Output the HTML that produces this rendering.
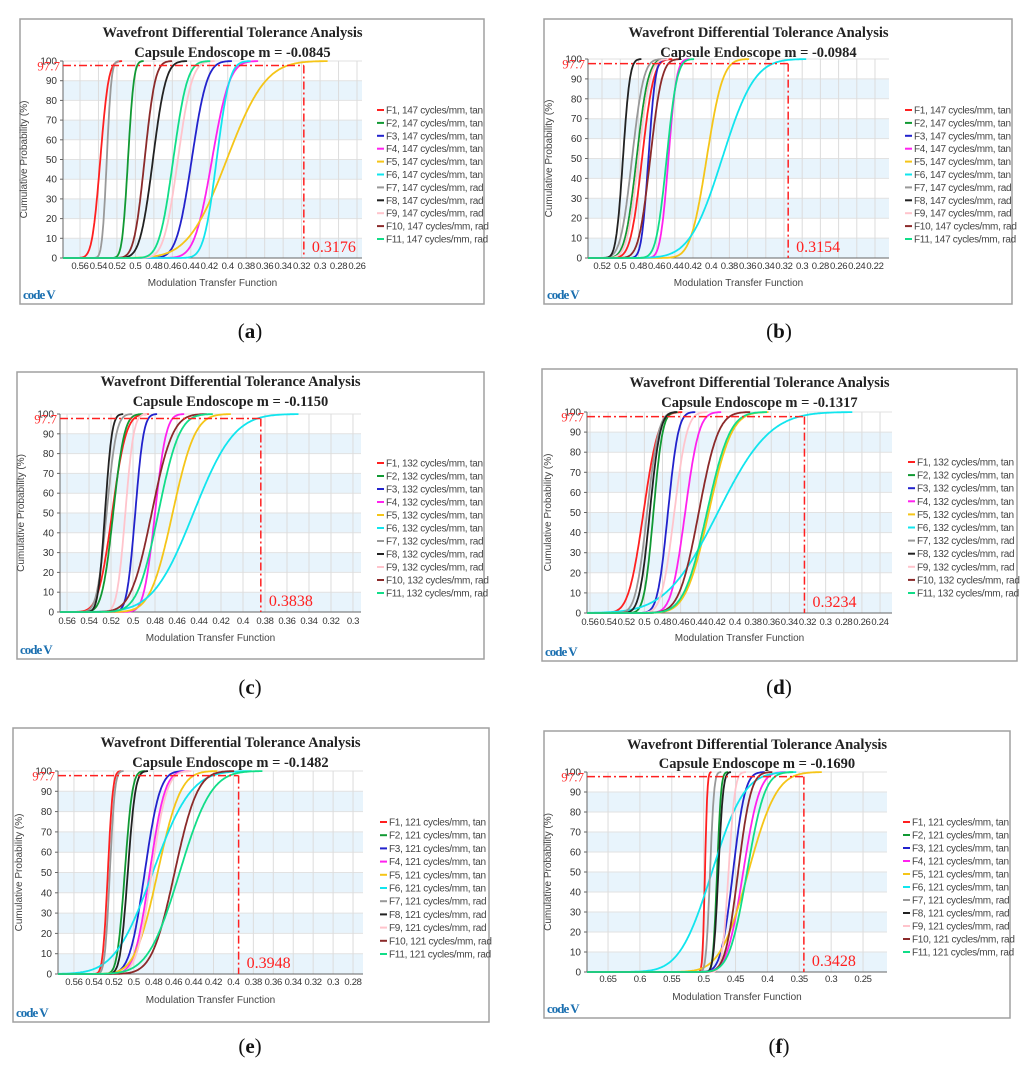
<!DOCTYPE html>
<html><head><meta charset="utf-8"><style>
html,body{margin:0;padding:0;background:#fff;}
svg{display:block;}
</style></head><body>
<svg id="fig" width="1036" height="1083" viewBox="0 0 1036 1083" xmlns="http://www.w3.org/2000/svg"></svg>
<script>
const seriesColors = ['#ff2020','#119933','#2222cc','#ff22ee','#f5c518','#11e5ee','#999999','#222222','#ffc4cc','#8b2a2a','#11dd88'];
const seriesNames = ['F1','F2','F3','F4','F5','F6','F7','F8','F9','F10','F11'];
const seriesKinds = ['tan','tan','tan','tan','tan','tan','rad','rad','rad','rad','rad'];
const panelLetters = ['a','b','c','d','e','f'];
const panelM = ['-0.0845','-0.0984','-0.1150','-0.1317','-0.1482','-0.1690'];
const panelFreq = [147,147,132,132,121,121];
const panelCutoff = [0.3176,0.3154,0.3838,0.3234,0.3948,0.3428];
const ticksA = [0.56,0.54,0.52,0.5,0.48,0.46,0.44,0.42,0.4,0.38,0.36,0.34,0.32,0.3,0.28,0.26];
const ticksB = [0.52,0.5,0.48,0.46,0.44,0.42,0.4,0.38,0.36,0.34,0.32,0.3,0.28,0.26,0.24,0.22];
const ticksC = [0.56,0.54,0.52,0.5,0.48,0.46,0.44,0.42,0.4,0.38,0.36,0.34,0.32,0.3];
const ticksD = [0.56,0.54,0.52,0.5,0.48,0.46,0.44,0.42,0.4,0.38,0.36,0.34,0.32,0.3,0.28,0.26,0.24];
const ticksE = [0.56,0.54,0.52,0.5,0.48,0.46,0.44,0.42,0.4,0.38,0.36,0.34,0.32,0.3,0.28];
const ticksF = [0.65,0.6,0.55,0.5,0.45,0.4,0.35,0.3,0.25];
const yTicks = [0,10,20,30,40,50,60,70,80,90,100];
// per-curve median MTF and spread (F1..F11)
const meansA = [0.538,0.508,0.439,0.417,0.401,0.412,0.531,0.481,0.454,0.490,0.459];
const sdsA   = [0.007,0.005,0.013,0.015,0.033,0.011,0.004,0.011,0.012,0.009,0.012];
const meansB = [0.476,0.482,0.469,0.447,0.405,0.388,0.487,0.497,0.480,0.467,0.449];
const sdsB   = [0.010,0.010,0.006,0.007,0.014,0.028,0.010,0.006,0.010,0.010,0.009];
const meansC = [0.519,0.518,0.498,0.480,0.464,0.445,0.524,0.5255,0.507,0.483,0.477];
const sdsC   = [0.010,0.008,0.006,0.008,0.016,0.029,0.007,0.005,0.006,0.015,0.015];
const meansD = [0.501,0.490,0.474,0.455,0.429,0.419,0.497,0.494,0.467,0.440,0.431];
const sdsD   = [0.013,0.008,0.009,0.012,0.020,0.045,0.010,0.009,0.011,0.017,0.020];
const meansE = [0.526,0.509,0.489,0.484,0.476,0.481,0.524,0.506,0.482,0.459,0.454];
const sdsE   = [0.004,0.006,0.012,0.012,0.018,0.030,0.004,0.006,0.012,0.018,0.025];
const meansF = [0.498,0.479,0.454,0.438,0.430,0.487,0.490,0.477,0.461,0.446,0.432];
const sdsF   = [0.003,0.005,0.015,0.020,0.035,0.040,0.005,0.006,0.008,0.016,0.022];

const panelMeans = [meansA,meansB,meansC,meansD,meansE,meansF];
const panelSds = [sdsA,sdsB,sdsC,sdsD,sdsE,sdsF];
const panelTicks = [ticksA,ticksB,ticksC,ticksD,ticksE,ticksF];
const layouts = [
 {bx:20,by:19,bw:464,bh:285,pl:63,pr:362,pt:61,pb:258,vl:0.5784,vr:0.2546,t1:37,t2:57,lx:377,ly0:110,ly1:239,tx:269,xt:286,lab:[250,338]},
 {bx:544,by:19,bw:468,bh:285,pl:588,pr:889,pt:59,pb:258,vl:0.5354,vr:0.2046,t1:37,t2:57,lx:905,ly0:110,ly1:239,tx:269,xt:286,lab:[779,338]},
 {bx:17,by:372,bw:467,bh:287,pl:60,pr:361,pt:414,pb:612,vl:0.5664,vr:0.2927,t1:386,t2:406,lx:377,ly0:463,ly1:593,tx:624,xt:641,lab:[250,694]},
 {bx:542,by:369,bw:475,bh:292,pl:587,pr:892,pt:412,pb:613,vl:0.5633,vr:0.2268,t1:387,t2:407,lx:908,ly0:462,ly1:593,tx:625,xt:641,lab:[779,694]},
 {bx:13,by:728,bw:476,bh:294,pl:58,pr:363,pt:771,pb:974,vl:0.576,vr:0.27,t1:747,t2:767,lx:380,ly0:822,ly1:954,tx:985,xt:1003,lab:[250,1053]},
 {bx:544,by:731,bw:466,bh:287,pl:587,pr:887,pt:772,pb:972,vl:0.683,vr:0.2124,t1:749,t2:768,lx:903,ly0:822,ly1:952,tx:982,xt:1000,lab:[779,1053]}
];
const NS='http://www.w3.org/2000/svg';
const svg=document.getElementById('fig');
function mk(tag,attrs,parent,text){const e=document.createElementNS(NS,tag);for(const k in attrs)e.setAttribute(k,attrs[k]);if(text!==undefined)e.textContent=text;(parent||svg).appendChild(e);return e;}
function erf(x){const s=x<0?-1:1;x=Math.abs(x);const t=1/(1+0.3275911*x);const y=1-(((((1.061405429*t-1.453152027)*t)+1.421413741)*t-0.284496736)*t+0.254829592)*t*Math.exp(-x*x);return s*y;}
function cdf(z){return 0.5*(1+erf(z/Math.SQRT2));}
function fmt(v){return String(+v.toFixed(2));}

layouts.forEach((L,pi)=>{
  const g=mk('g',{});
  
  
  const xs=v=>L.pl+(L.vl-v)/(L.vl-L.vr)*(L.pr-L.pl);
  const ys=p=>L.pb-p/100*(L.pb-L.pt);
  const box=mk('rect',{x:L.bx,y:L.by,width:L.bw,height:L.bh,fill:'#fff',stroke:'#a0a0a0','stroke-width':1.5},g);
  
  for(let k=0;k<10;k+=2){
    const r=mk('rect',{x:L.pl,y:ys(k*10+10),width:L.pr-L.pl,height:ys(k*10)-ys(k*10+10),fill:'#e8f4fc'},g);
    
  }
  yTicks.forEach(t=>{
    const l=mk('line',{x1:L.pl,x2:L.pr,y1:ys(t),y2:ys(t),stroke:'#e2e2e2','stroke-width':1},g);
    
    const tl=mk('text',{x:L.pl-6,y:ys(t)+3.5,'text-anchor':'end','font-family':'Liberation Sans, sans-serif','font-size':10,fill:'#333'},g,String(t));
    
    mk('line',{x1:L.pl-3,x2:L.pl,y1:ys(t),y2:ys(t),stroke:'#666'},g);
  });
  panelTicks[pi].forEach(t=>{
    const x=xs(t);
    const l=mk('line',{x1:x,x2:x,y1:L.pt,y2:L.pb,stroke:'#dcdcdc','stroke-width':1},g);
    
    const tl=mk('text',{x:x,y:L.tx,'text-anchor':'middle','font-family':'Liberation Sans, sans-serif','font-size':9.5,fill:'#333','letter-spacing':'-0.3'},g,fmt(t));
    
  });
  mk('line',{x1:L.pl,x2:L.pl,y1:L.pt,y2:L.pb,stroke:'#666'},g);
  mk('line',{x1:L.pl,x2:L.pr,y1:L.pb,y2:L.pb,stroke:'#666'},g);
  const means=panelMeans[pi],sds=panelSds[pi];
  means.forEach((mu,ci)=>{
    const s=sds[ci];let pts=[];
    const n=400;
    for(let i=0;i<=n;i++){
      const v=L.vl+(L.vr-L.vl)*i/n;
      const p=100*cdf((mu-v)/s);
      pts.push(xs(v).toFixed(1)+','+ys(p).toFixed(1));
      if(p>99.95)break;
    }
    const pl=mk('polyline',{points:pts.join(' '),fill:'none',stroke:seriesColors[ci],'stroke-width':1.8},g);
    
    
  });
  const cx=xs(panelCutoff[pi]);
  const h=mk('line',{x1:L.pl,x2:cx,y1:ys(97.7),y2:ys(97.7),stroke:'#ff2020','stroke-width':1.5,'stroke-dasharray':'8,3,2,3'},g);
  
  const v=mk('line',{x1:cx,x2:cx,y1:ys(97.7),y2:L.pb,stroke:'#ff2020','stroke-width':1.5,'stroke-dasharray':'8,3,2,3'},g);
  
  const t97=mk('text',{x:L.pl-3,y:ys(97.7)+5,'text-anchor':'end','font-family':'Liberation Serif, serif','font-size':13,fill:'#ff3030'},g,'97.7');
  
  const tv=mk('text',{x:cx+8,y:L.pb-6,'font-family':'Liberation Serif, serif','font-size':16,fill:'#ff2020'},g,panelCutoff[pi].toFixed(4));
  
  const cxm=(L.pl+L.pr)/2+20;
  const t1=mk('text',{x:cxm,y:L.t1,'text-anchor':'middle','font-family':'Liberation Serif, serif','font-size':14.5,'font-weight':'bold',fill:'#222'},g,'Wavefront  Differential  Tolerance  Analysis');
  
  const t2=mk('text',{x:cxm,y:L.t2,'text-anchor':'middle','font-family':'Liberation Serif, serif','font-size':14.5,'font-weight':'bold',fill:'#222','xml:space':'preserve'},g,'Capsule  Endoscope     m = '+panelM[pi]);
  
  const yt=mk('text',{x:0,y:0,'text-anchor':'middle','font-family':'Liberation Sans, sans-serif','font-size':10,fill:'#444',transform:'translate('+(L.pl-36)+','+((L.pt+L.pb)/2)+') rotate(-90)'},g,'Cumulative Probability (%)');
  
  const xt=mk('text',{x:(L.pl+L.pr)/2,y:L.xt,'text-anchor':'middle','font-family':'Liberation Sans, sans-serif','font-size':10,fill:'#444'},g,'Modulation Transfer Function');
  
  seriesNames.forEach((nm,ci)=>{
    const y=L.ly0+(L.ly1-L.ly0)*ci/10;
    const lg=mk('g',{},g);
    
    
    mk('line',{x1:L.lx,x2:L.lx+7,y1:y,y2:y,stroke:seriesColors[ci],'stroke-width':2},lg);
    mk('text',{x:L.lx+9,y:y+3.5,'font-family':'Liberation Sans, sans-serif','font-size':10,fill:'#444','letter-spacing':'-0.3'},lg,nm+', '+panelFreq[pi]+' cycles/mm, '+seriesKinds[ci]);
  });
  const lo=mk('text',{x:L.bx+3,y:L.by+L.bh-5,'font-family':'Liberation Serif, serif','font-size':13,'font-weight':'bold',fill:'#1a6fb0','letter-spacing':'-1'},g,'code V');
  
  const pl=mk('text',{x:L.lab[0],y:L.lab[1],'text-anchor':'middle','font-family':'Liberation Serif, serif','font-size':21,fill:'#111'},svg);
  
  mk('tspan',{},pl,'(');mk('tspan',{'font-weight':'bold'},pl,panelLetters[pi]);mk('tspan',{},pl,')');
});
</script>
</body></html>
